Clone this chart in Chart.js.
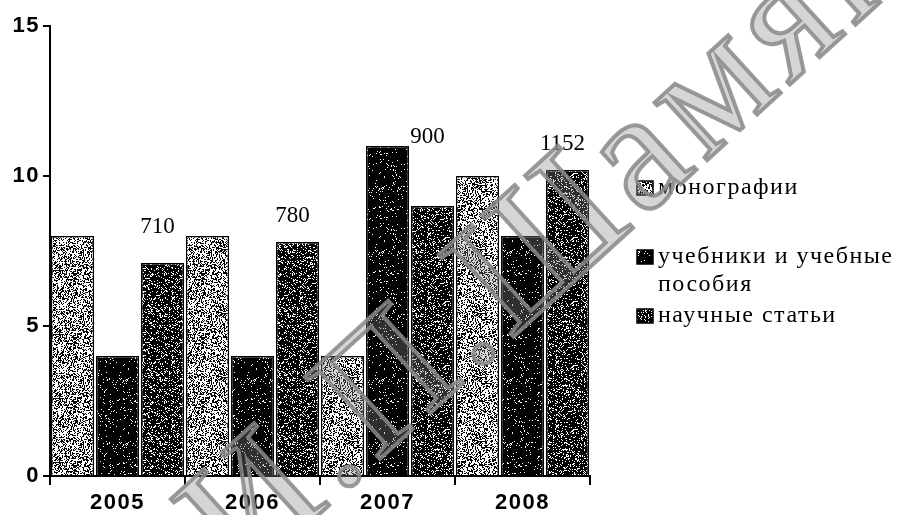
<!DOCTYPE html>
<html>
<head>
<meta charset="utf-8">
<script src="https://cdn.jsdelivr.net/npm/chart.js@4/dist/chart.umd.min.js"></script>
<style>
  html, body { margin: 0; padding: 0; background: #fff; }
  #wrap { width: 899px; height: 515px; position: relative; }
</style>
</head>
<body>
<div id="wrap"><canvas id="pubChart"></canvas></div>
<script>
// data
var categories = ['2005', '2006', '2007', '2008'];
var monographs = [8, 8, 4, 10];
var textbooks = [4, 4, 11, 8];
var articles = [7.1, 7.8, 9, 10.2];
var articleCounts = ['710', '780', '900', '1152'];
var seriesNames = ['монографии', 'учебники и учебные пособия', 'научные статьи'];
var legendLines = [['монографии'], ['учебники и учебные', 'пособия'], ['научные статьи']];
var watermark = 'И.П.Шамякина';

// speckled fills like the printed scan
function speckle(base, dot, density, seed) {
    var c = document.createElement('canvas');
    c.width = 64; c.height = 64;
    var g = c.getContext('2d');
    g.fillStyle = base;
    g.fillRect(0, 0, 64, 64);
    g.fillStyle = dot;
    var s = seed;
    for (var y = 0; y < 64; y++) {
        for (var x = 0; x < 64; x++) {
            s = (s * 1103515245 + 12345) & 0x7fffffff;
            if ((s % 1000) / 1000 < density) g.fillRect(x, y, 1, 1);
        }
    }
    return g.createPattern(c, 'repeat');
}
var fills = [
    speckle('#ffffff', '#000000', 0.42, 7),
    speckle('#000000', '#ffffff', 0.05, 13),
    speckle('#000000', '#ffffff', 0.2, 29)
];

var spacing = {
    id: 'spacing',
    beforeDraw: function (chart) { chart.ctx.letterSpacing = '1.5px'; }
};

var countLabels = {
    id: 'countLabels',
    afterDatasetsDraw: function (chart) {
        var ctx = chart.ctx;
        var y = chart.scales.y;
        ctx.save();
        ctx.letterSpacing = '0px';
        ctx.font = '23px "Liberation Serif"';
        ctx.fillStyle = '#000';
        ctx.textAlign = 'center';
        ctx.textBaseline = 'middle';
        var bars = chart.getDatasetMeta(2).data;
        for (var i = 0; i < bars.length; i++) {
            var groupMax = Math.max(monographs[i], textbooks[i], articles[i]);
            var ly = Math.min(bars[i].y - 26, y.getPixelForValue(groupMax) - 9);
            ctx.fillText(articleCounts[i], bars[i].x - 5, ly);
        }
        ctx.restore();
    }
};

var sideLegend = {
    id: 'sideLegend',
    afterDraw: function (chart) {
        var ctx = chart.ctx;
        var x0 = 637;
        var rows = [188, 257, 316];
        ctx.save();
        ctx.font = '24px "Liberation Serif"';
        ctx.letterSpacing = '1.5px';
        ctx.textBaseline = 'middle';
        for (var i = 0; i < legendLines.length; i++) {
            var cy = rows[i];
            ctx.fillStyle = fills[i];
            ctx.fillRect(x0, cy - 7, 16, 14);
            ctx.strokeStyle = '#000';
            ctx.lineWidth = 1.5;
            ctx.strokeRect(x0, cy - 7, 16, 14);
            ctx.fillStyle = '#000';
            for (var j = 0; j < legendLines[i].length; j++) {
                ctx.fillText(legendLines[i][j], x0 + 21, cy + j * 28);
            }
        }
        ctx.restore();
    }
};

var stamp = {
    id: 'stamp',
    afterDraw: function (chart) {
        var ctx = chart.ctx;
        ctx.save();
        ctx.font = '170px "Liberation Serif"';
        ctx.letterSpacing = '8px';
        var split = watermark.indexOf('Ш');
        var head = watermark.slice(0, split);
        var tail = watermark.slice(split);
        ctx.translate(510, 340);
        ctx.rotate(-0.74);
        ctx.textBaseline = 'alphabetic';
        var hw = ctx.measureText(head).width;
        ctx.fillStyle = 'rgba(136,136,136,0.35)';
        ctx.fillText(head, -hw, 0);
        ctx.fillText(tail, 0, 0);
        ctx.strokeStyle = 'rgba(136,136,136,0.85)';
        ctx.lineWidth = 4;
        ctx.strokeText(head, -hw, 0);
        ctx.strokeText(tail, 0, 0);
        ctx.restore();
    }
};

var ctx = document.getElementById('pubChart').getContext('2d');
window.pubChartInstance = new Chart(ctx, {
    type: 'bar',
    data: {
        labels: categories,
        datasets: [
            { label: seriesNames[0], data: monographs, backgroundColor: fills[0] },
            { label: seriesNames[1], data: textbooks, backgroundColor: fills[1] },
            { label: seriesNames[2], data: articles, backgroundColor: fills[2] }
        ]
    },
    options: {
        responsive: true,
        maintainAspectRatio: false,
        animation: false,
        events: [],
        layout: { padding: { top: 26, right: 309, left: 0, bottom: 0 } },
        datasets: {
            bar: {
                categoryPercentage: 1,
                barPercentage: 0.96,
                borderColor: '#000',
                borderWidth: 1.5
            }
        },
        plugins: {
            legend: { display: false },
            tooltip: { enabled: false }
        },
        scales: {
            x: {
                border: { color: '#000', width: 2 },
                grid: { offset: true, drawOnChartArea: false, color: '#000', lineWidth: 2, tickLength: 9 },
                ticks: { color: '#000', font: { family: '"Liberation Sans"', size: 22, weight: 'bold' }, padding: 5 },
                afterFit: function (s) { s.height = 39; }
            },
            y: {
                min: 0,
                max: 15,
                border: { color: '#000', width: 2 },
                grid: { drawOnChartArea: false, color: '#000', lineWidth: 2, tickLength: 7 },
                ticks: { stepSize: 5, color: '#000', font: { family: '"Liberation Sans"', size: 22, weight: 'bold' }, padding: 3 },
                afterFit: function (s) { s.width = 50; }
            }
        }
    },
    plugins: [spacing, countLabels, sideLegend, stamp]
});
</script>
</body>
</html>
